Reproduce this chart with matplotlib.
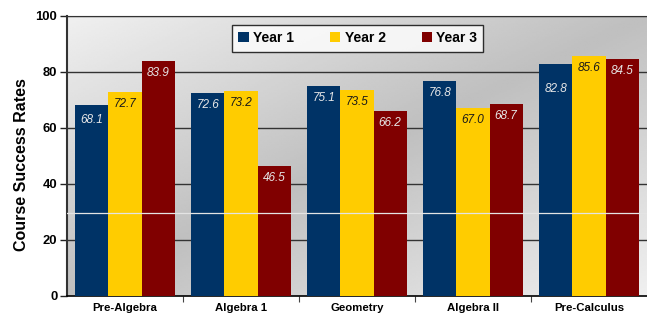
import numpy as np
import matplotlib
matplotlib.use("Agg")
import matplotlib.pyplot as plt
from matplotlib.patches import Patch

courses = ["Pre-Algebra", "Algebra 1", "Geometry", "Algebra II", "Pre-Calculus"]
year1 = [68.1, 72.6, 75.1, 76.8, 82.8]
year2 = [72.7, 73.2, 73.5, 67.0, 85.6]
year3 = [83.9, 46.5, 66.2, 68.7, 84.5]
series_names = ["Year 1", "Year 2", "Year 3"]
y_ticks = [0, 20, 40, 60, 80, 100]

colors = ["#003366", "#FFCC00", "#800000"]
label_colors = ["#e6e6e6", "#1a1a1a", "#e6e6e6"]

plt.rcParams["font.family"] = ["Liberation Sans", "DejaVu Sans"]

fig = plt.figure(figsize=(6.47, 3.18), dpi=100)
ax = fig.add_axes([67 / 647, 22 / 318, 580 / 647, 280 / 318])

# diagonal gradient background: light at top-left / bottom-right, darker through the middle
nx, ny = 300, 150
gx, gy = np.meshgrid(np.linspace(0, 1, nx), np.linspace(1, 0, ny))
u = (gx + (1 - gy)) / 2
shade = 0.94 - 0.19 * (1 - np.abs(u - 0.5) * 2)
ax.imshow(shade, cmap="gray", vmin=0, vmax=1, extent=[-0.5, 4.5, 0, 100],
          aspect="auto", zorder=0, interpolation="bilinear")

x = np.arange(len(courses))
width = 0.285
offset_px = 12
for i, vals in enumerate([year1, year2, year3]):
    pos = x + (i - 1) * width
    bars = ax.bar(pos, vals, width, color=colors[i], zorder=3, label=series_names[i])
    for b, v in zip(bars, vals):
        extra = 13 if v == 82.8 else (3 if v == 68.1 else 0)
        ax.annotate(f"{v:.1f}", (b.get_x() + b.get_width() / 2, v),
                    xytext=(0, -(offset_px + extra)), textcoords="offset pixels",
                    ha="center", va="center", fontsize=8.5, style="italic",
                    color=label_colors[i], zorder=5)

ax.set_xlim(-0.5, 4.5)
ax.set_ylim(0, 100)
ax.set_yticks(y_ticks)
ax.set_yticklabels([str(t) for t in y_ticks], fontsize=9.4, fontweight="bold")
for t in y_ticks[1:]:
    ax.axhline(t, color="#333333", lw=1.0, zorder=2)
ax.axhline(29.6, color="#e4e4e4", lw=0.9, zorder=4)

ax.set_xticks(np.arange(0.5, 4.5, 1), minor=False)
ax.set_xticklabels([])
ax.tick_params(axis="x", direction="out", length=4, width=0.8, color="#444444")
ax.set_xticks(x, minor=True)
ax.set_xticklabels(courses, minor=True, fontsize=8.2, fontweight="bold")
ax.tick_params(axis="x", which="minor", length=0, pad=5)
ax.tick_params(axis="y", direction="out", length=5, width=1, color="#222222", pad=2)

ax.set_ylabel("Course Success Rates", fontsize=11.5, fontweight="bold")
ax.yaxis.set_label_coords(-38 / 580, 0.47)

ax.spines["right"].set_visible(False)
ax.spines["top"].set_color("#333333")
ax.spines["left"].set_color("#333333")
ax.spines["left"].set_linewidth(1.5)
ax.spines["bottom"].set_color("#000000")
ax.spines["bottom"].set_linewidth(1.2)

handles = [Patch(facecolor=c) for c in colors]
leg = ax.legend(handles, series_names, loc="upper left", bbox_to_anchor=(165 / 580, 1 - 9 / 280),
                ncol=3, frameon=True, fancybox=False,
                prop={"weight": "bold", "size": 10}, handlelength=0.75, handleheight=0.75,
                handletextpad=0.3, columnspacing=2.6, borderpad=0.45, borderaxespad=0)
leg.get_frame().set_edgecolor("#000000")
leg.get_frame().set_linewidth(1.0)
leg.set_zorder(6)

fig.savefig("out.png", dpi=100)
